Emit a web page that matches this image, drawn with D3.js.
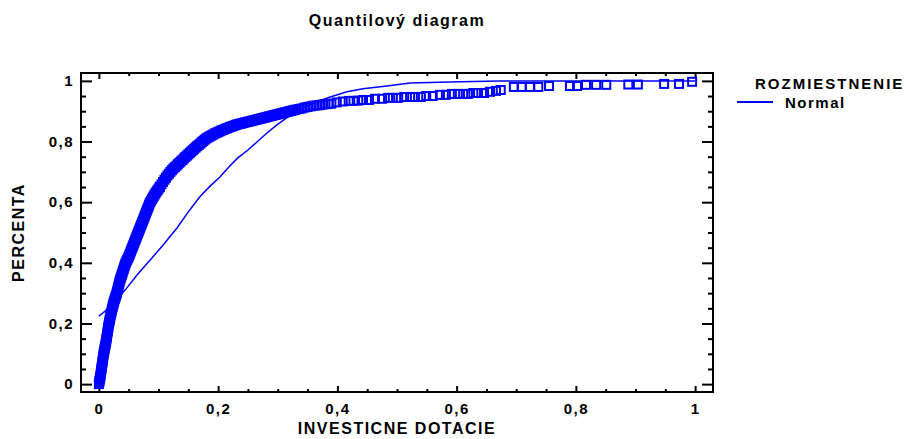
<!DOCTYPE html>
<html>
<head>
<meta charset="utf-8">
<script src="https://cdn.jsdelivr.net/npm/d3@7"></script>
<style>
  body { margin: 0; background: #fff; }
  text { font-family: "Liberation Sans", Arial, sans-serif; font-weight: bold; fill: #000; }
</style>
</head>
<body>
<div id="chart"></div>
<script>
const quantil = [
  0.000, 0.0005, 0.001, 0.0015, 0.002, 0.0024, 0.0028, 0.0032, 0.0035, 0.0039,
  0.0043, 0.0046, 0.0050, 0.0054, 0.0058, 0.0062, 0.0065, 0.0069, 0.0073, 0.0076,
  0.0080, 0.0085, 0.0090, 0.0095, 0.0100, 0.0105, 0.0110, 0.0115, 0.0120, 0.0124,
  0.0128, 0.0132, 0.0136, 0.0140, 0.0144, 0.0148, 0.0152, 0.0156, 0.0160, 0.0165,
  0.0170, 0.0175, 0.0180, 0.0185, 0.0190, 0.0195, 0.0200, 0.0206, 0.0213, 0.0219,
  0.0225, 0.0231, 0.0238, 0.0244, 0.0250, 0.0258, 0.0267, 0.0275, 0.0283, 0.0292,
  0.0300, 0.0306, 0.0313, 0.0319, 0.0325, 0.0331, 0.0338, 0.0344, 0.0350, 0.0358,
  0.0367, 0.0375, 0.0383, 0.0392, 0.0400, 0.0408, 0.0417, 0.0425, 0.0433, 0.0442,
  0.0450, 0.0463, 0.0475, 0.0488, 0.0500, 0.0510, 0.0520, 0.0530, 0.0540, 0.0550,
  0.0560, 0.0570, 0.0580, 0.0590, 0.0600, 0.0610, 0.0620, 0.0630, 0.0640, 0.0650,
  0.0660, 0.0670, 0.0680, 0.0690, 0.0700, 0.0710, 0.0720, 0.0730, 0.0740, 0.0750,
  0.0760, 0.0770, 0.0780, 0.0790, 0.0800, 0.0810, 0.0820, 0.0830, 0.0840, 0.0850,
  0.0860, 0.0875, 0.0890, 0.0905, 0.0920, 0.0935, 0.0950, 0.0968, 0.0985, 0.1003,
  0.1020, 0.1025, 0.1050, 0.1075, 0.1100, 0.1125, 0.1150, 0.1175, 0.1200, 0.1225,
  0.1250, 0.1275, 0.1300, 0.1325, 0.1350, 0.1375, 0.1400, 0.1425, 0.1450, 0.1475,
  0.1500, 0.1525, 0.1550, 0.1575, 0.1600, 0.1625, 0.1650, 0.1675, 0.1700, 0.1725,
  0.1750, 0.1775, 0.1800, 0.1825, 0.1850, 0.1875, 0.1900, 0.1925, 0.1950, 0.1975,
  0.2000, 0.2025, 0.2050, 0.2075, 0.2100, 0.2125, 0.2150, 0.2175, 0.2200, 0.2225,
  0.2250, 0.2275, 0.2300, 0.2325, 0.2350, 0.2375, 0.2400, 0.2425, 0.2450, 0.2475,
  0.2500, 0.2525, 0.2550, 0.2575, 0.2600, 0.2625, 0.2650, 0.2675, 0.2700, 0.2725,
  0.2750, 0.2775, 0.2800, 0.2825, 0.2850, 0.2875, 0.2900, 0.2925, 0.2950, 0.2975,
  0.3000, 0.3025, 0.3050, 0.3075, 0.3100, 0.3125, 0.3150, 0.3175, 0.3200, 0.3225,
  0.3250, 0.3275, 0.3300,
  0.335, 0.340, 0.345, 0.350, 0.355, 0.360, 0.365, 0.370, 0.375, 0.380,
  0.385, 0.390,
  0.399, 0.409, 0.419, 0.427, 0.435, 0.443, 0.453, 0.463, 0.475, 0.485,
  0.493, 0.502, 0.512, 0.522, 0.530, 0.540, 0.549, 0.560, 0.572, 0.582,
  0.592, 0.602, 0.611, 0.619, 0.628, 0.636, 0.646, 0.656, 0.666, 0.674,
  0.696, 0.709, 0.723, 0.737, 0.755, 0.790, 0.802, 0.817, 0.834, 0.851,
  0.888, 0.904, 0.948, 0.973, 0.995
];
const percenta = [
  0.000, 0.005, 0.010, 0.015, 0.020, 0.025, 0.030, 0.035, 0.040, 0.045,
  0.050, 0.055, 0.060, 0.065, 0.070, 0.075, 0.080, 0.085, 0.090, 0.095,
  0.100, 0.105, 0.110, 0.115, 0.120, 0.125, 0.130, 0.135, 0.140, 0.145,
  0.150, 0.155, 0.160, 0.165, 0.170, 0.175, 0.180, 0.185, 0.190, 0.195,
  0.200, 0.205, 0.210, 0.215, 0.220, 0.225, 0.230, 0.235, 0.240, 0.245,
  0.250, 0.255, 0.260, 0.265, 0.270, 0.275, 0.280, 0.285, 0.290, 0.295,
  0.300, 0.305, 0.310, 0.315, 0.320, 0.325, 0.330, 0.335, 0.340, 0.345,
  0.350, 0.355, 0.360, 0.365, 0.370, 0.375, 0.380, 0.385, 0.390, 0.395,
  0.400, 0.405, 0.410, 0.415, 0.420, 0.425, 0.430, 0.435, 0.440, 0.445,
  0.450, 0.455, 0.460, 0.465, 0.470, 0.475, 0.480, 0.485, 0.490, 0.495,
  0.500, 0.505, 0.510, 0.515, 0.520, 0.525, 0.530, 0.535, 0.540, 0.545,
  0.550, 0.555, 0.560, 0.565, 0.570, 0.575, 0.580, 0.585, 0.590, 0.595,
  0.600, 0.605, 0.610, 0.615, 0.620, 0.625, 0.630, 0.635, 0.640, 0.645,
  0.650, 0.6515, 0.659, 0.6665, 0.674, 0.681, 0.688, 0.694, 0.700, 0.7055,
  0.711, 0.7155, 0.720, 0.725, 0.730, 0.7345, 0.739, 0.744, 0.749, 0.7535,
  0.758, 0.7625, 0.767, 0.7715, 0.776, 0.7805, 0.785, 0.789, 0.793, 0.7975,
  0.802, 0.806, 0.810, 0.813, 0.816, 0.8185, 0.821, 0.824, 0.827, 0.829,
  0.831, 0.8335, 0.836, 0.838, 0.840, 0.842, 0.844, 0.846, 0.848, 0.8495,
  0.851, 0.853, 0.855, 0.8565, 0.858, 0.859, 0.860, 0.8615, 0.863, 0.864,
  0.865, 0.8663, 0.8675, 0.8688, 0.870, 0.8713, 0.8725, 0.8738, 0.875, 0.8763,
  0.8775, 0.8788, 0.880, 0.8813, 0.8825, 0.8838, 0.885, 0.8863, 0.8875, 0.8888,
  0.890, 0.8913, 0.8925, 0.8938, 0.895, 0.8963, 0.8975, 0.8988, 0.900, 0.9013,
  0.9025, 0.9038, 0.905,
  0.907, 0.909, 0.912, 0.914, 0.916, 0.918, 0.919, 0.920, 0.922, 0.923,
  0.924, 0.925,
  0.929, 0.932, 0.934, 0.934, 0.935, 0.937, 0.937, 0.941, 0.941, 0.944,
  0.944, 0.944, 0.947, 0.947, 0.947, 0.947, 0.950, 0.950, 0.954, 0.954,
  0.957, 0.957, 0.957, 0.957, 0.960, 0.960, 0.960, 0.964, 0.967, 0.970,
  0.980, 0.980, 0.980, 0.980, 0.983, 0.983, 0.983, 0.987, 0.987, 0.987,
  0.988, 0.988, 0.990, 0.990, 0.997
];

// fitted normal distribution
const normalX = [0.000, 0.005, 0.010, 0.015, 0.030, 0.044, 0.066, 0.089, 0.106, 0.131,
  0.150, 0.169, 0.186, 0.203, 0.218, 0.233, 0.250, 0.266, 0.282, 0.298,
  0.315, 0.337, 0.359, 0.388, 0.416, 0.443, 0.483, 0.522, 0.606, 0.673, 1.000];
const normalP = [0.224, 0.232, 0.240, 0.250, 0.280, 0.310, 0.365, 0.416, 0.455, 0.515,
  0.568, 0.617, 0.652, 0.683, 0.716, 0.746, 0.772, 0.800, 0.828, 0.854,
  0.878, 0.905, 0.927, 0.947, 0.964, 0.974, 0.983, 0.993, 0.997, 1.000, 1.000];

const majorTicks = [0, 0.2, 0.4, 0.6, 0.8, 1];
const tickLabels = ["0", "0,2", "0,4", "0,6", "0,8", "1"];
const minorTicks = [0.05, 0.1, 0.15, 0.25, 0.3, 0.35, 0.45, 0.5, 0.55,
  0.65, 0.7, 0.75, 0.85, 0.9, 0.95];

const W = 908, H = 439;
const plot = {left: 81, right: 713, top: 73, bottom: 392};
const blue = "#0000ff";

const svg = d3.select("#chart").append("svg")
  .attr("width", W)
  .attr("height", H);

const x = d3.scaleLinear().domain([-0.03, 1.03]).range([plot.left, plot.right]);
const y = d3.scaleLinear().domain([-0.026, 1.026]).range([plot.bottom, plot.top]);

// title
svg.append("text")
  .attr("x", (plot.left + plot.right) / 2)
  .attr("y", 26)
  .attr("text-anchor", "middle")
  .style("font-size", "16px")
  .style("letter-spacing", "1.5px")
  .text("Quantilový diagram");

// axes: ticks point inward, labels only on bottom/left
function styleAxis(g) {
  g.select(".domain").remove();
  g.selectAll(".tick line").attr("stroke", "#000").attr("stroke-width", 2);
}

svg.append("g")
  .attr("transform", "translate(0," + plot.bottom + ")")
  .call(d3.axisBottom(x).tickValues(majorTicks).tickSizeInner(-6).tickSizeOuter(0)
    .tickPadding(11).tickFormat((d, i) => tickLabels[i]))
  .call(styleAxis)
  .selectAll("text")
    .style("font-size", "15px")
    .style("letter-spacing", "1.5px")
    .attr("fill", "#000");
svg.append("g")
  .attr("transform", "translate(0," + plot.bottom + ")")
  .call(d3.axisBottom(x).tickValues(minorTicks).tickSize(-3).tickFormat(""))
  .call(styleAxis);

svg.append("g")
  .attr("transform", "translate(0," + plot.top + ")")
  .call(d3.axisTop(x).tickValues(majorTicks).tickSize(-6).tickFormat(""))
  .call(styleAxis);
svg.append("g")
  .attr("transform", "translate(0," + plot.top + ")")
  .call(d3.axisTop(x).tickValues(minorTicks).tickSize(-3).tickFormat(""))
  .call(styleAxis);

svg.append("g")
  .attr("transform", "translate(" + plot.left + ",0)")
  .call(d3.axisLeft(y).tickValues(majorTicks).tickSizeInner(-11).tickSizeOuter(0)
    .tickPadding(7).tickFormat((d, i) => tickLabels[i]))
  .call(styleAxis)
  .selectAll("text")
    .style("font-size", "15px")
    .style("letter-spacing", "1.5px")
    .attr("fill", "#000");
svg.append("g")
  .attr("transform", "translate(" + plot.left + ",0)")
  .call(d3.axisLeft(y).tickValues(minorTicks).tickSize(-5).tickFormat(""))
  .call(styleAxis);

svg.append("g")
  .attr("transform", "translate(" + plot.right + ",0)")
  .call(d3.axisRight(y).tickValues(majorTicks).tickSize(-11).tickFormat(""))
  .call(styleAxis);
svg.append("g")
  .attr("transform", "translate(" + plot.right + ",0)")
  .call(d3.axisRight(y).tickValues(minorTicks).tickSize(-5).tickFormat(""))
  .call(styleAxis);

// frame
svg.append("rect")
  .attr("x", plot.left).attr("y", plot.top)
  .attr("width", plot.right - plot.left)
  .attr("height", plot.bottom - plot.top)
  .attr("fill", "none")
  .attr("stroke", "#000")
  .attr("stroke-width", 2);

// axis titles
svg.append("text")
  .attr("x", (plot.left + plot.right) / 2)
  .attr("y", 434)
  .attr("text-anchor", "middle")
  .style("font-size", "16px")
  .style("letter-spacing", "1.5px")
  .text("INVESTICNE DOTACIE");

svg.append("text")
  .attr("transform", "translate(24," + (plot.top + plot.bottom) / 2 + ") rotate(-90)")
  .attr("text-anchor", "middle")
  .style("font-size", "16px")
  .style("letter-spacing", "1.5px")
  .text("PERCENTA");

// fitted normal line
const normalData = normalX.map((v, i) => ({x: v, p: normalP[i]}));
svg.append("path")
  .datum(normalData)
  .attr("fill", "none")
  .attr("stroke", blue)
  .attr("stroke-width", 1.5)
  .attr("d", d3.line().x(d => x(d.x)).y(d => y(d.p)));

// quantile points
const pts = quantil.map((v, i) => ({x: v, p: percenta[i]}));
const s = 8;
svg.append("g").selectAll("rect")
  .data(pts)
  .enter().append("rect")
    .attr("x", d => x(d.x) - s / 2)
    .attr("y", d => y(d.p) - s / 2)
    .attr("width", s)
    .attr("height", s)
    .attr("fill", "none")
    .attr("stroke", blue)
    .attr("stroke-width", 2);

// legend
svg.append("text")
  .attr("x", 755)
  .attr("y", 89)
  .style("font-size", "15px")
  .style("letter-spacing", "2px")
  .text("ROZMIESTNENIE");
svg.append("line")
  .attr("x1", 737).attr("x2", 773)
  .attr("y1", 102).attr("y2", 102)
  .attr("stroke", blue)
  .attr("stroke-width", 2);
svg.append("text")
  .attr("x", 785)
  .attr("y", 108)
  .style("font-size", "15px")
  .style("letter-spacing", "1.5px")
  .text("Normal");
</script>
</body>
</html>
